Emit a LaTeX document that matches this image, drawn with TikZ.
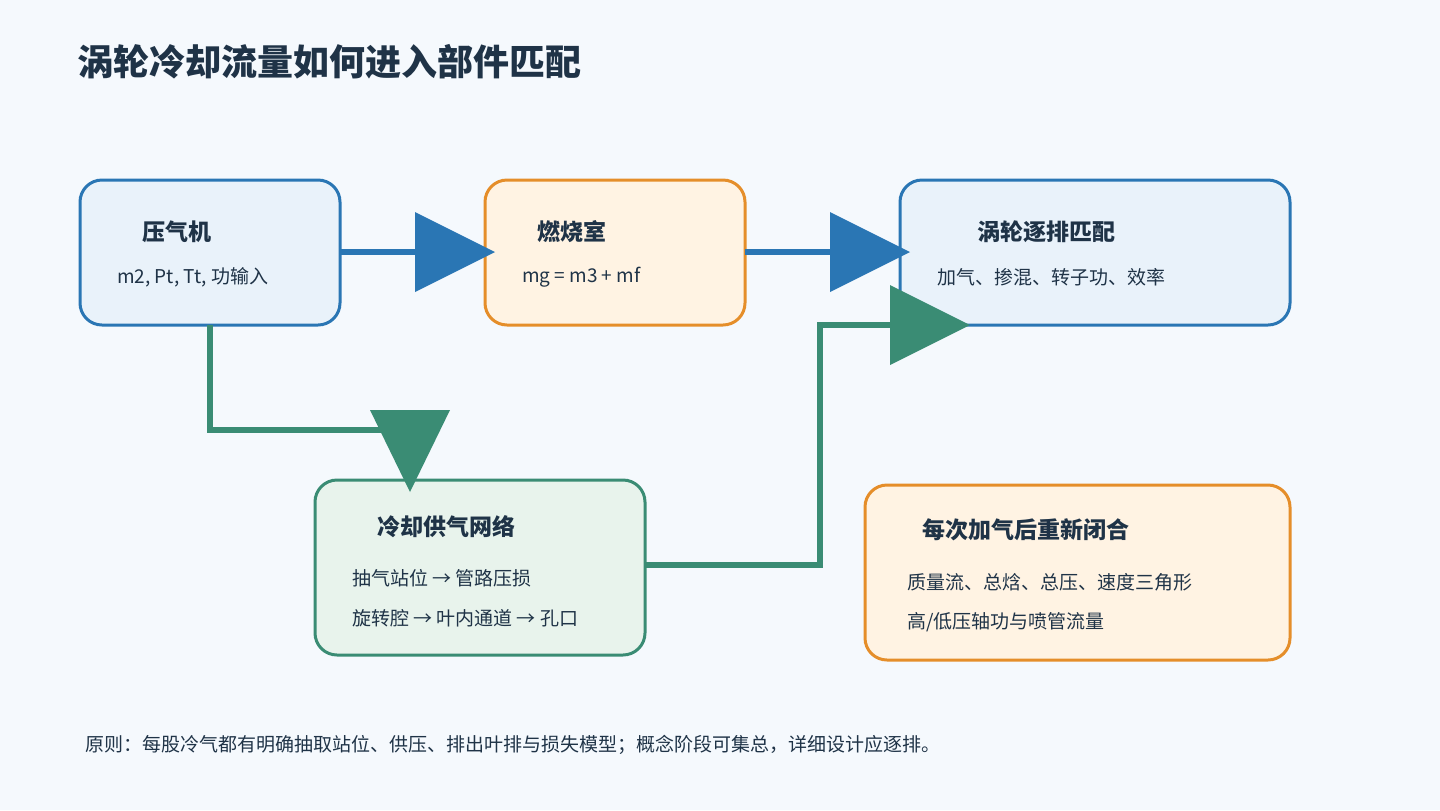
\documentclass[tikz,border=0pt]{standalone}
\usepackage{fontspec}
\setmainfont{Noto Sans CJK SC}
\usetikzlibrary{positioning}
\definecolor{bgc}{HTML}{F5F9FD}
\definecolor{ink}{HTML}{1F3347}
\definecolor{blueline}{HTML}{2A76B4}
\definecolor{bluefill}{HTML}{E9F2FA}
\definecolor{orangeline}{HTML}{E58E2A}
\definecolor{orangefill}{HTML}{FFF3E3}
\definecolor{greenline}{HTML}{3A8C74}
\definecolor{greenfill}{HTML}{E8F3EC}
\tikzset{
  box/.style={draw, line width=1.5pt, rounded corners=11pt, inner sep=0pt},
  head/.style={anchor=west, font=\fontsize{11.5}{13}\selectfont\bfseries, text=ink},
  txt/.style={anchor=west, font=\fontsize{9.5}{12}\selectfont, text=ink},
  flow/.style={line width=3pt, line join=miter},
}
\begin{document}
\begin{tikzpicture}[x=0.5pt,y=-0.5pt]
	\fill [bgc] (0,0) rectangle (1440,810);
	\useasboundingbox (0,0) rectangle (1440,810);
	\node [anchor=west, font=\fontsize{18}{20}\selectfont\bfseries, text=ink] (title) at (70,62) {涡轮冷却流量如何进入部件匹配};
	% boxes
	\draw [box, blueline, fill=bluefill] (80,180) rectangle (340,325);
	\coordinate (comp) at (80,180);
	\node [head] (comph) at (135,232) {压气机};
	\node [txt] (compt) at (110,277) {m2, Pt, Tt, 功输入};
	\draw [box, orangeline, fill=orangefill] (485,180) rectangle (745,325);
	\node [head] (combh) at (530,232) {燃烧室};
	\node [txt] (combt) at (515,277) {mg = m3 + mf};
	\draw [box, blueline, fill=bluefill] (900,180) rectangle (1290,325);
	\node [head] (turbh) at (970,232) {涡轮逐排匹配};
	\node [txt] (turbt) at (930,277) {加气、掺混、转子功、效率};
	\draw [box, greenline, fill=greenfill] (315,480) rectangle (645,655);
	\node [head] (coolh) at (370,527) {冷却供气网络};
	\node [txt] (coolt) at (345,578) {抽气站位 → 管路压损};
	\node [txt] (cools) at (345,618) {旋转腔 → 叶内通道 → 孔口};
	\draw [box, orangeline, fill=orangefill] (865,485) rectangle (1290,660);
	\node [head] (closeh) at (915,530) {每次加气后重新闭合};
	\node [txt] (closet) at (900,582) {质量流、总焓、总压、速度三角形};
	\node [txt] (closes) at (900,622) {高/低压轴功与喷管流量};
	% connectors
	\draw [flow, blueline] (340,252) -- (420,252);
	\fill [blueline] (415,212) -- (495,252) -- (415,292) -- cycle;
	\draw [flow, blueline] (745,252) -- (835,252);
	\fill [blueline] (830,212) -- (910,252) -- (830,292) -- cycle;
	\draw [flow, greenline] (210,325) -- (210,430) -- (405,430);
	\fill [greenline] (370,410) -- (450,410) -- (410,492) -- cycle;
	\draw [flow, greenline] (645,565) -- (820,565) -- (820,325) -- (895,325);
	\fill [greenline] (890,285) -- (970,325) -- (890,365) -- cycle;
	\node [txt] (note) at (78,745) {原则：每股冷气都有明确抽取站位、供压、排出叶排与损失模型；概念阶段可集总，详细设计应逐排。};
\end{tikzpicture}
\end{document}
